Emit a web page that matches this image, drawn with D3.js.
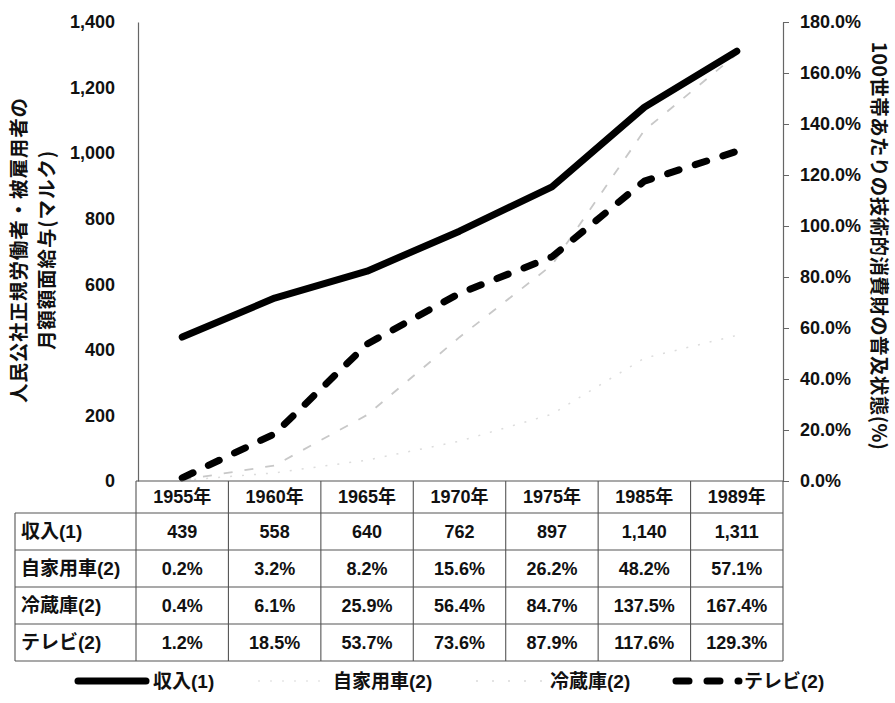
<!DOCTYPE html>
<html>
<head>
<meta charset="utf-8">
<script src="https://cdn.jsdelivr.net/npm/d3@7"></script>
<style>
  html, body { margin: 0; padding: 0; background: #fff; }
  svg { display: block; }
  text { font-family: "Liberation Sans", "Noto Sans CJK JP", sans-serif; font-weight: bold; fill: #111; }
  .jp { font-family: "Noto Sans CJK JP", sans-serif; }
</style>
</head>
<body>
<div id="chart"></div>
<script>
// Years (table columns / x categories)
const years = ["1955年", "1960年", "1965年", "1970年", "1975年", "1985年", "1989年"];
// Monthly gross wage (Mark)
const income = [439, 558, 640, 762, 897, 1140, 1311];
// Ownership per 100 households (%)
const car = [0.2, 3.2, 8.2, 15.6, 26.2, 48.2, 57.1];
const fridge = [0.4, 6.1, 25.9, 56.4, 84.7, 137.5, 167.4];
const tv = [1.2, 18.5, 53.7, 73.6, 87.9, 117.6, 129.3];
// Axis ticks
const leftTicks = [0, 200, 400, 600, 800, 1000, 1200, 1400];
const rightTicks = [0, 20, 40, 60, 80, 100, 120, 140, 160, 180];
// Table row labels and legend labels
const rowLabels = ["収入(1)", "自家用車(2)", "冷蔵庫(2)", "テレビ(2)"];

const W = 895, H = 703;
const plotL = 136, plotR = 783, plotT = 22, plotB = 481;

const svg = d3.select("#chart").append("svg").attr("width", W).attr("height", H);

const x = d3.scaleBand().domain(years).range([plotL, plotR]).padding(0);
const yL = d3.scaleLinear().domain([0, 1400]).range([plotB, plotT]);
const yR = d3.scaleLinear().domain([0, 180]).range([plotB, plotT]);
const cx = d => x(d) + x.bandwidth() / 2;

// Left axis
const axL = svg.append("g").attr("transform", `translate(${plotL + 2},0)`)
  .call(d3.axisLeft(yL).tickValues(leftTicks).tickSize(0).tickPadding(23).tickFormat(d3.format(",")));
axL.select(".domain").attr("stroke", "#666").attr("stroke-width", 1.2);
axL.selectAll("text").attr("font-size", 18).attr("fill", "#111").attr("font-family", null);

// Right axis
const axR = svg.append("g").attr("transform", `translate(${plotR},0)`)
  .call(d3.axisRight(yR).tickValues(rightTicks).tickSize(6).tickSizeOuter(0).tickPadding(11).tickFormat(d => d3.format(".1f")(d) + "%"));
axR.select(".domain").attr("stroke", "#666").attr("stroke-width", 1.2);
axR.selectAll(".tick line").attr("stroke", "#666");
axR.selectAll("text").attr("font-size", 18).attr("fill", "#111").attr("font-family", null);

// Axis titles
const tl = svg.append("g").attr("transform", "translate(0,250)");
tl.append("text").attr("class", "jp").attr("transform", "translate(19,0) rotate(-90)")
  .attr("text-anchor", "middle").attr("dy", "0.36em").attr("font-size", 19.5).attr("letter-spacing", 0.9)
  .text("人民公社正規労働者・被雇用者の");
tl.append("text").attr("class", "jp").attr("transform", "translate(47,0) rotate(-90)")
  .attr("text-anchor", "middle").attr("dy", "0.36em").attr("font-size", 19.5).attr("letter-spacing", 0.9)
  .text("月額額面給与(マルク)");
svg.append("text").attr("class", "jp").attr("transform", "translate(879,246) rotate(90)")
  .attr("text-anchor", "middle").attr("dy", "0.36em").attr("font-size", 19.5).attr("letter-spacing", 0.4)
  .text("100世帯あたりの技術的消費財の普及状態(%)");

// Series lines
const lineL = d3.line().x((d, i) => cx(years[i])).y(d => yL(d));
const lineR = d3.line().x((d, i) => cx(years[i])).y(d => yR(d));

svg.append("path").datum(car).attr("d", lineR).attr("fill", "none")
  .attr("stroke", "#dcdcdc").attr("stroke-width", 1.5).attr("stroke-dasharray", "2 10");
svg.append("path").datum(fridge).attr("d", lineR).attr("fill", "none")
  .attr("stroke", "#c8c8c8").attr("stroke-width", 1.8).attr("stroke-dasharray", "9 12");
svg.append("path").datum(income).attr("d", lineL).attr("fill", "none")
  .attr("stroke", "#000").attr("stroke-width", 7).attr("stroke-linecap", "round").attr("stroke-linejoin", "round");
svg.append("path").datum(tv).attr("d", lineR).attr("fill", "none")
  .attr("stroke", "#000").attr("stroke-width", 7).attr("stroke-linecap", "round").attr("stroke-linejoin", "round")
  .attr("stroke-dasharray", "12 17");

// Data table
const rowEdges = [481, 513, 550, 587, 624, 661];
const tableL = 15;
const grid = svg.append("g").attr("stroke", "#555").attr("stroke-width", 1.1).attr("fill", "none");
rowEdges.forEach((yy, i) => {
  grid.append("line").attr("x1", i === 0 ? plotL : tableL).attr("x2", plotR)
    .attr("y1", yy).attr("y2", yy);
});
years.forEach(yr => {
  grid.append("line").attr("x1", x(yr)).attr("x2", x(yr)).attr("y1", rowEdges[0]).attr("y2", rowEdges[5]);
});
grid.append("line").attr("x1", plotR).attr("x2", plotR).attr("y1", rowEdges[0]).attr("y2", rowEdges[5]);
grid.append("line").attr("x1", tableL).attr("x2", tableL).attr("y1", rowEdges[1]).attr("y2", rowEdges[5]);

const tbl = svg.append("g");
years.forEach(yr => {
  tbl.append("text").attr("x", cx(yr)).attr("y", (rowEdges[0] + rowEdges[1]) / 2).attr("dy", "0.36em")
    .attr("text-anchor", "middle").attr("font-size", 18).text(yr);
});
const pct = v => d3.format(".1f")(v) + "%";
const rows = [income.map(d3.format(",")), car.map(pct), fridge.map(pct), tv.map(pct)];
rows.forEach((vals, r) => {
  const ym = (rowEdges[r + 1] + rowEdges[r + 2]) / 2;
  tbl.append("text").attr("x", 21).attr("y", ym).attr("dy", "0.36em").attr("font-size", 19).text(rowLabels[r]);
  vals.forEach((v, i) => {
    tbl.append("text").attr("x", cx(years[i])).attr("y", ym).attr("dy", "0.36em")
      .attr("text-anchor", "middle").attr("font-size", 18).text(v);
  });
});

// Legend
const lg = svg.append("g");
const ly = 681;
lg.append("line").attr("x1", 78).attr("x2", 146).attr("y1", ly).attr("y2", ly)
  .attr("stroke", "#000").attr("stroke-width", 7).attr("stroke-linecap", "round");
lg.append("text").attr("x", 153).attr("y", ly).attr("dy", "0.36em").attr("font-size", 19).text(rowLabels[0]);
lg.append("line").attr("x1", 258).attr("x2", 326).attr("y1", ly).attr("y2", ly)
  .attr("stroke", "#e6e6e6").attr("stroke-width", 1.5).attr("stroke-dasharray", "2 10");
lg.append("text").attr("x", 333).attr("y", ly).attr("dy", "0.36em").attr("font-size", 19).text(rowLabels[1]);
lg.append("line").attr("x1", 476).attr("x2", 544).attr("y1", ly).attr("y2", ly)
  .attr("stroke", "#dadada").attr("stroke-width", 1.5).attr("stroke-dasharray", "2 14");
lg.append("text").attr("x", 550).attr("y", ly).attr("dy", "0.36em").attr("font-size", 19).text(rowLabels[2]);
lg.append("line").attr("x1", 676).attr("x2", 739).attr("y1", ly).attr("y2", ly)
  .attr("stroke", "#000").attr("stroke-width", 7).attr("stroke-linecap", "round").attr("stroke-dasharray", "13 18");
lg.append("text").attr("x", 744).attr("y", ly).attr("dy", "0.36em").attr("font-size", 19).text(rowLabels[3]);
</script>
</body>
</html>
